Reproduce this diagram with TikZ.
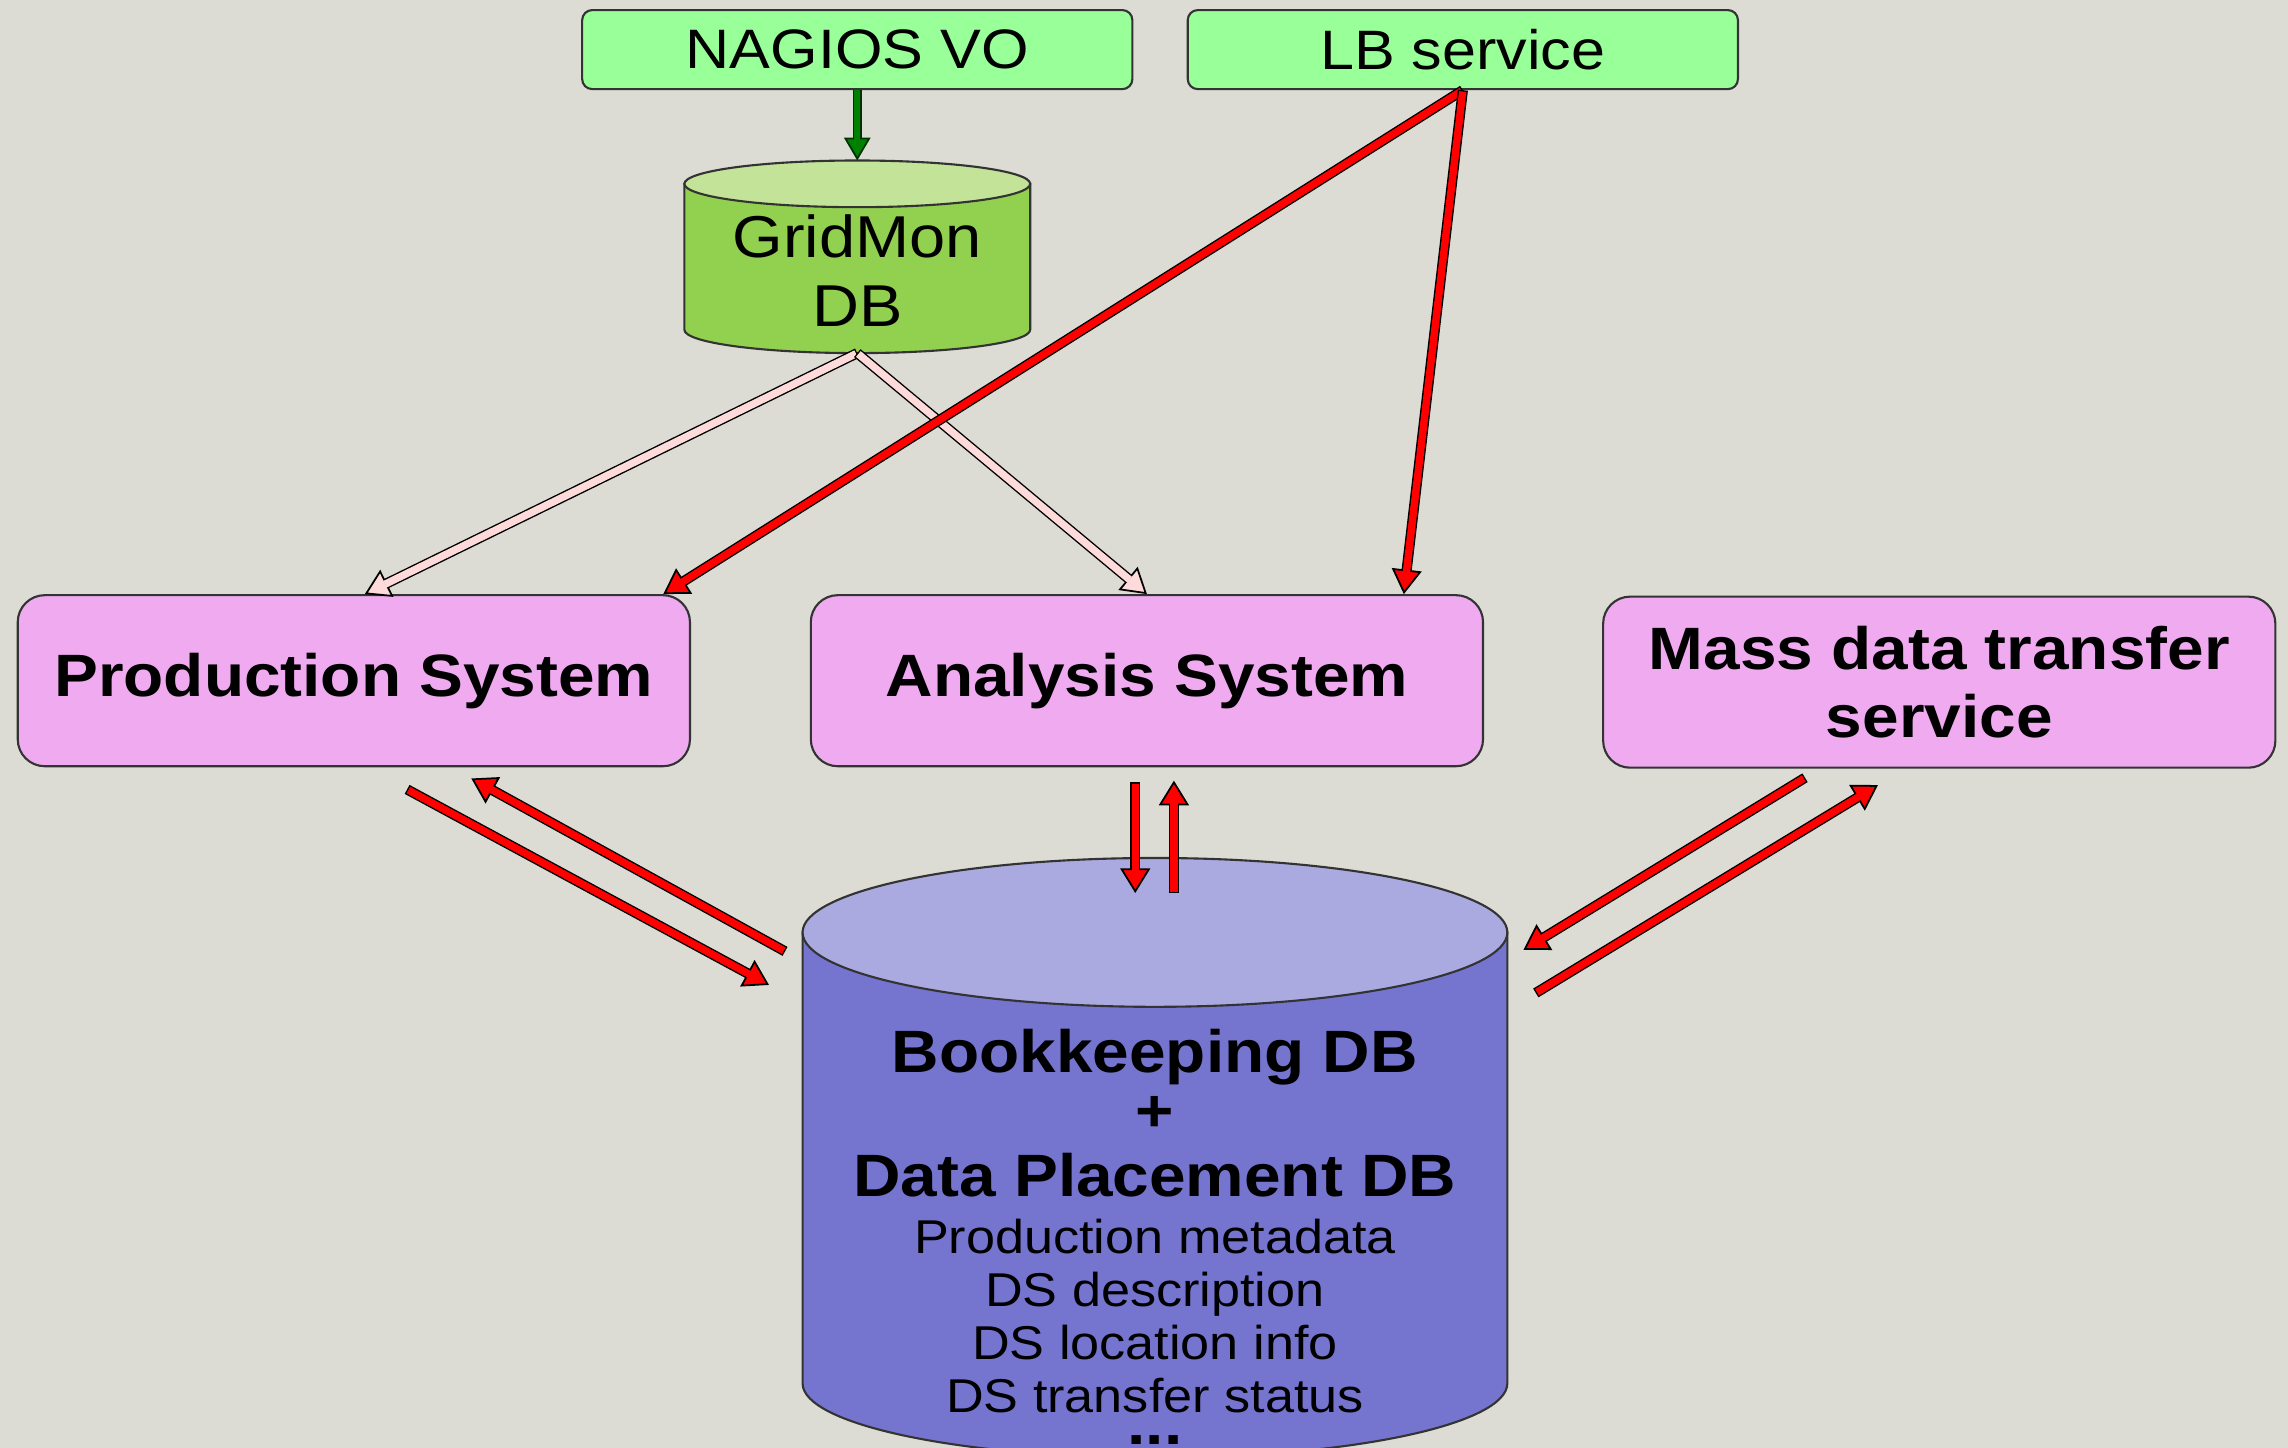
\documentclass[tikz,border=0pt]{standalone}
\usepackage{fontspec}
\setmainfont{Liberation Sans}[FakeStretch=1.1]
\usetikzlibrary{arrows.meta, calc}

\definecolor{paper}{RGB}{220,220,213}
\definecolor{vogreen}{RGB}{153,255,153}
\definecolor{syspink}{RGB}{239,170,240}
\definecolor{gmbody}{RGB}{146,208,80}
\definecolor{gmtop}{RGB}{194,227,152}
\definecolor{bkbody}{RGB}{117,117,208}
\definecolor{bktop}{RGB}{170,170,224}
\definecolor{palepink}{RGB}{255,218,218}
\definecolor{darkgreen}{RGB}{0,128,0}

\newcommand\bkhead{\fontsize{17}{15.1}\selectfont\bfseries}

\tikzset{
  vobox/.style={draw=black!80, line width=0.6pt, fill=vogreen, rounded corners=0.1cm,
    minimum width=5.50cm, minimum height=0.79cm, inner sep=0pt,
    font=\fontsize{15.8}{19}\selectfont},
  sysbox/.style={draw=black!80, line width=0.6pt, fill=syspink, rounded corners=0.27cm,
    minimum width=6.72cm, minimum height=1.71cm, inner sep=0pt, align=center,
    font=\fontsize{17}{19.5}\selectfont\bfseries},
  flow/.style={line width=2.9pt, draw=black,
    -{Triangle[length=7pt, width=8.5pt, line width=0.5pt, fill=#1]},
    postaction={draw=#1, line width=2.1pt, -, shorten >=6.4pt, shorten <=0.4pt}},
  redflow/.style={flow=red},
  paleflow/.style={flow=palepink},
  greenflow/.style={line width=2.4pt, draw=black!60!darkgreen,
    -{Triangle[length=6.5pt, width=7.5pt, line width=0.5pt, fill=darkgreen]},
    postaction={draw=darkgreen, line width=1.6pt, -, shorten >=5.9pt}},
  dbline/.style={draw=black!80, line width=0.6pt}
}

\begin{document}
\begin{tikzpicture}[x=0.014592cm, y=-0.014592cm]
\useasboundingbox (0,0) rectangle (1568,992.3);
\clip (0,0) rectangle (1568,992.3);
\fill[paper] (0,0) rectangle (1568,992.3);

\filldraw[dbline, fill=gmbody] (469,126) -- (469,226) arc[start angle=180, end angle=0, x radius=118.5, y radius=16] -- (706,126) -- cycle;
\filldraw[dbline, fill=gmtop] (587.5,126) ellipse[x radius=118.5, y radius=16];
\node[align=center, inner sep=0pt, font=\fontsize{16.8}{19.5}\selectfont] (gridmon) at (587.5,185.5) {GridMon\\DB};
\coordinate (gridmon top) at (587.5,110);
\coordinate (gridmon base) at (587.5,242);

\filldraw[dbline, fill=bkbody] (550,639) -- (550,948) arc[start angle=180, end angle=0, x radius=241.5, y radius=51] -- (1033,639) -- cycle;
\filldraw[dbline, fill=bktop] (791.5,639) ellipse[x radius=241.5, y radius=51];
\node[anchor=north, inner sep=0pt, align=center, font=\fontsize{13.5}{15.1}\selectfont] (bk) at (791.5,705)
  {\bkhead Bookkeeping DB\\[1.5pt] \bkhead +\\[3.5pt] \bkhead Data Placement DB\\[1pt]
   Production metadata\\ DS description\\ DS location info\\ DS transfer status\\[-6pt] \bkhead ...};

\node[vobox] (nagios) at (587.5,34) {NAGIOS VO};
\node[vobox] (lb) at (1002.5,34) {LB service};
\node[sysbox] (prod) at (242.5,466.5) {Production System};
\node[sysbox] (ana) at (786,466.5) {Analysis System};
\node[sysbox] (mass) at (1329,467.5) {Mass data transfer\\service};

\draw[greenflow] (nagios) -- (gridmon top);
\draw[paleflow] (gridmon base) -- ($(prod.north)+(7.5,0)$);
\draw[paleflow] (gridmon base) -- (ana.north);
\draw[redflow] (lb.south) -- ($(prod.north east)+(-19,0)$);
\draw[redflow] (lb.south) -- ($(ana.north east)+(-55,0)$);

\coordinate (prod out) at (279,541);
\coordinate (prod in) at (323,533.5);
\coordinate (bk left in) at (527,675);
\coordinate (bk left out) at (538,652);
\draw[redflow] (prod out) -- (bk left in);
\draw[redflow] (bk left out) -- (prod in);

\coordinate (ana out) at (778,536);
\coordinate (ana in) at (804.5,535);
\coordinate (bk top in) at (778,612);
\coordinate (bk top out) at (804.5,612);
\draw[redflow] (ana out) -- (bk top in);
\draw[redflow] (bk top out) -- (ana in);

\coordinate (mass out) at (1237,533);
\coordinate (mass in) at (1287,538);
\coordinate (bk right in) at (1044,651);
\coordinate (bk right out) at (1052.5,680.5);
\draw[redflow] (mass out) -- (bk right in);
\draw[redflow] (bk right out) -- (mass in);
\end{tikzpicture}
\end{document}
